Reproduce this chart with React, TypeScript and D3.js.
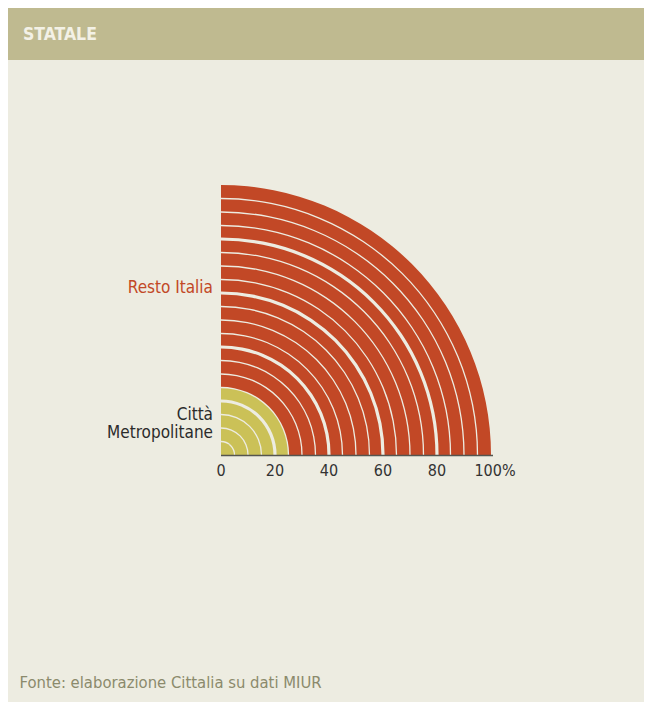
import React from "react";
import * as d3 from "d3";

const categories = ["Città Metropolitane", "Resto Italia"];
const shares = [25, 75];
const ringStep = 5;
const ticks = [0, 20, 40, 60, 80, 100];
const title = "STATALE";
const source = "Fonte: elaborazione Cittalia su dati MIUR";

const W = 637;
const H = 694;
const cx = 213;
const cy = 447;
const R = 270;
const FONT = "'DejaVu Sans Condensed', 'DejaVu Sans', sans-serif";
const BG = "#edece1";
const colors = ["#cbc157", "#c24826"];

export default function App() {
  const r = d3.scaleLinear().domain([0, 100]).range([0, R]);
  const x = d3.scaleLinear().domain([0, 100]).range([cx, cx + R]);

  const cum = d3.cumsum(shares);
  const rings: { lo: number; hi: number; cat: number }[] = [];
  shares.forEach((s, ci) => {
    const start = cum[ci] - s;
    for (let v = start; v < cum[ci] - 1e-9; v += ringStep) {
      rings.push({ lo: v, hi: Math.min(v + ringStep, cum[ci]), cat: ci });
    }
  });

  const gap = (v: number) => {
    if (v <= 0 || v >= 100) return 0;
    return Math.abs(v % 20) < 1e-9 ? 3.2 : 1.3;
  };

  const arc = d3.arc<any>();

  return (
    <svg width={W} height={H} style={{ display: "block" }}>
      <rect x={0} y={0} width={W} height={H} fill={BG} />
      <rect x={0} y={0} width={W} height={52} fill="#bfba90" />
      <text x={15} y={31.5} fontFamily={FONT} fontWeight="bold" fontSize={17.5} fill="#f3f1e6">
        {title}
      </text>

      <g transform={`translate(${cx},${cy})`}>
        {rings.map((d, i) => (
          <path
            key={i}
            d={arc({
              innerRadius: r(d.lo) + gap(d.lo) / 2,
              outerRadius: r(d.hi) - gap(d.hi) / 2,
              startAngle: 0,
              endAngle: Math.PI / 2,
            }) as string}
            fill={colors[d.cat]}
          />
        ))}
      </g>

      <line x1={x(0)} x2={x(100) + 2} y1={cy + 0.5} y2={cy + 0.5} stroke="#55554f" strokeWidth={1.5} />

      {ticks.map((t) => (
        <text
          key={t}
          x={x(t) + (t === 100 ? 4 : 0)}
          y={468}
          textAnchor="middle"
          fontFamily={FONT}
          fontSize={16}
          fill="#333"
        >
          {t === 100 ? `${t}%` : t}
        </text>
      ))}

      <text x={205} y={285} textAnchor="end" fontFamily={FONT} fontSize={17} fill={colors[1]}>
        {categories[1]}
      </text>
      <text textAnchor="end" fontFamily={FONT} fontSize={17} fill="#2b2b2b">
        <tspan x={205} y={412}>{categories[0].split(" ")[0]}</tspan>
        <tspan x={205} y={430.3}>{categories[0].split(" ")[1]}</tspan>
      </text>

      <text x={11.5} y={680} fontFamily={FONT} fontSize={16.5} fill="#8b8a6c">
        {source}
      </text>
    </svg>
  );
}
